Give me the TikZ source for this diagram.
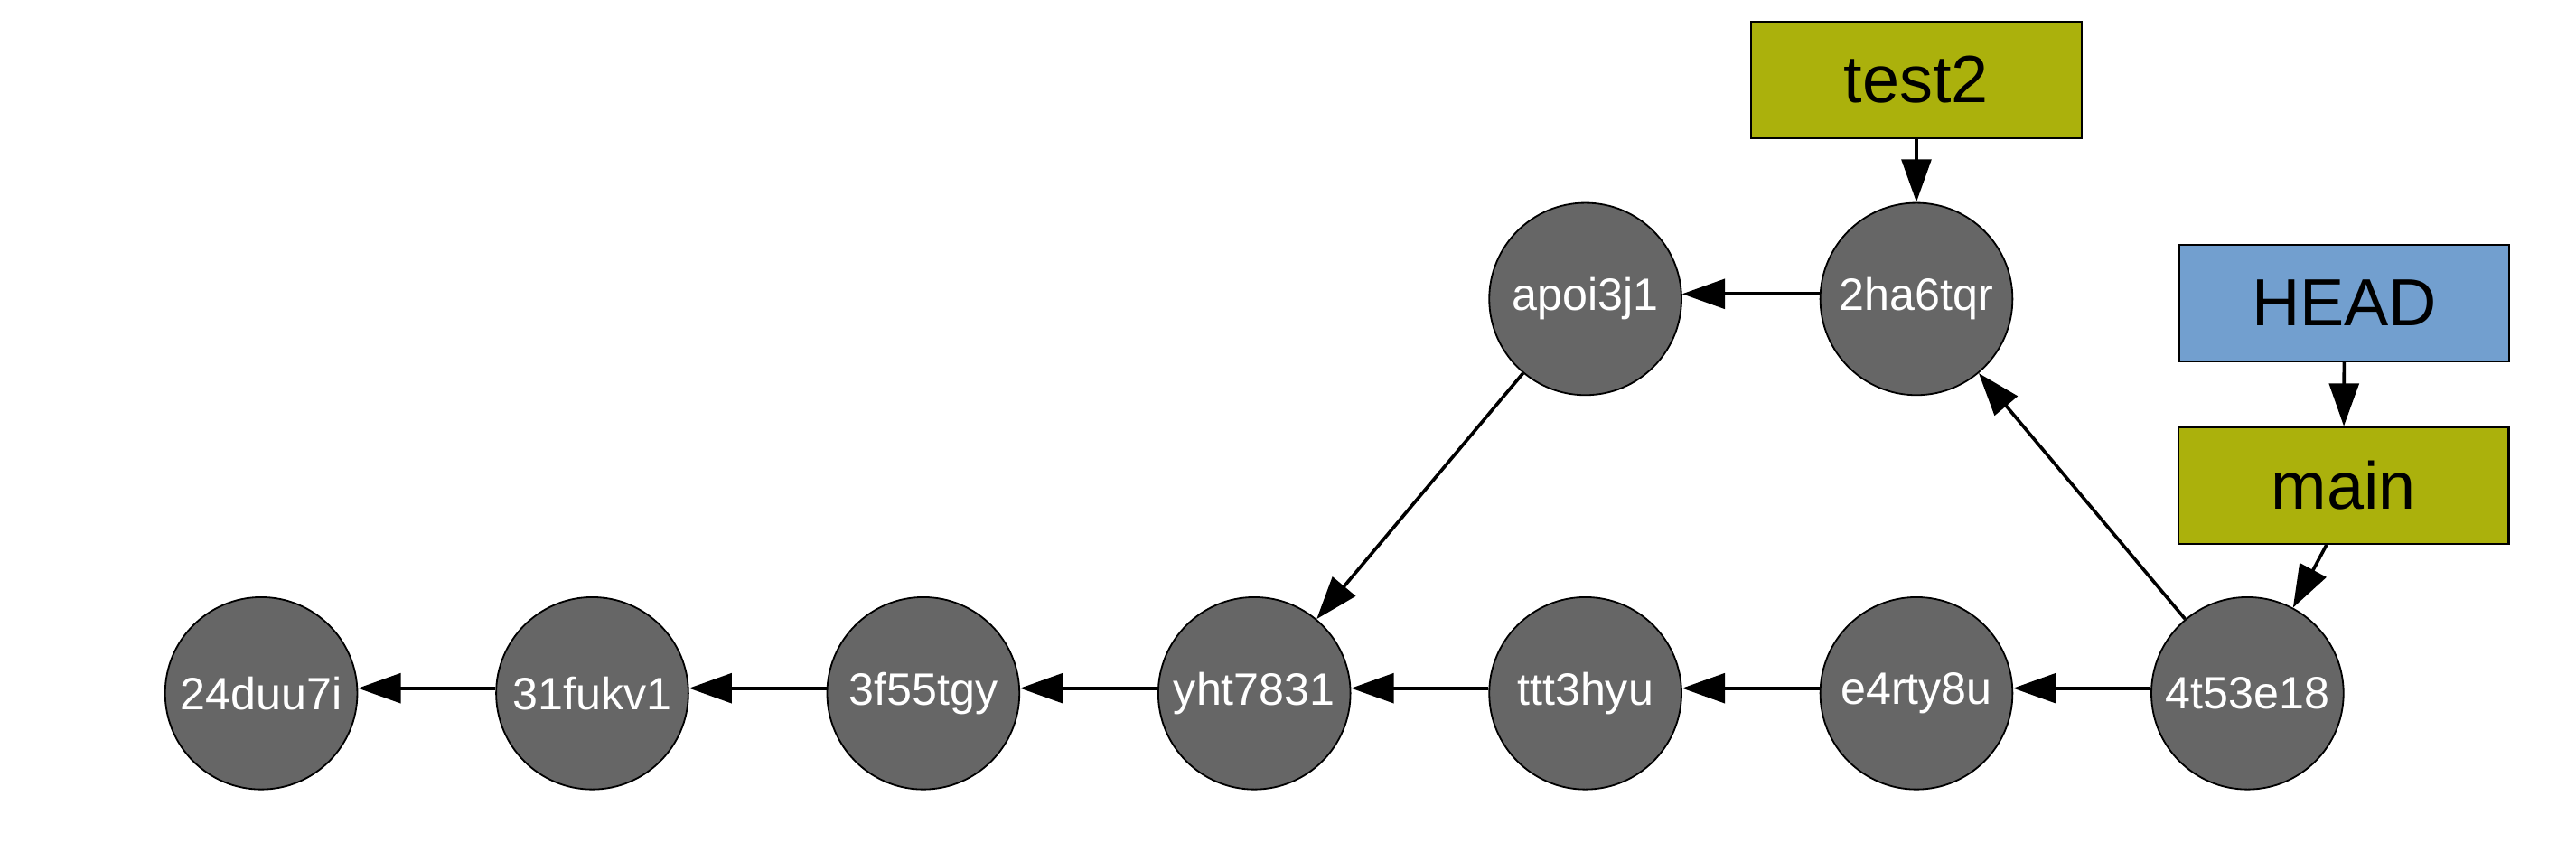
\documentclass[tikz,border=0pt]{standalone}
\usepackage{fontspec}
\setmainfont{Liberation Sans}
\usetikzlibrary{arrows.meta}
\definecolor{commitgray}{HTML}{666666}
\definecolor{branchgreen}{HTML}{ABB10C}
\definecolor{headblue}{HTML}{729FCF}

\begin{document}
\begin{tikzpicture}[x=0.5pt,y=-0.5pt,->,>={Triangle[length=13pt,width=9pt]},
                    node distance=100.75pt,line width=1pt]
  \tikzstyle{commit}=[circle,draw=black,line width=0.5pt,fill=commitgray,
                      text=white,minimum size=58.5pt,inner sep=0pt,
                      font=\fontsize{13.8}{16}\selectfont]
  \tikzstyle{ref}=[rectangle,draw=black,line width=0.6pt,text=black,
                   minimum width=100.5pt,minimum height=35.5pt,inner sep=0pt,
                   font=\fontsize{20.3}{24}\selectfont]
  \useasboundingbox (0,0) rectangle (1568,512.6);

  \node[commit]         (C7) at (1368,422)  {4t53e18};
  \node[commit]         (C6) [left of=C7]   {e4rty8u};
  \node[commit]         (C5) [left of=C6]   {ttt3hyu};
  \node[commit]         (C4) [left of=C5]   {yht7831};
  \node[commit]         (C3) [left of=C4]   {3f55tgy};
  \node[commit]         (C2) [left of=C3]   {31fukv1};
  \node[commit]         (C1) [left of=C2]   {24duu7i};
  \node[commit]         (B1) [above of=C5,node distance=120pt] {apoi3j1};
  \node[commit]         (B2) [right of=B1]  {2ha6tqr};

  \node[ref,fill=branchgreen] (test2) [above of=B2,node distance=66.75pt] {test2};
  \node[ref,fill=headblue]    (head) at (1427,184.5) {HEAD};
  \node[ref,fill=branchgreen] (main) at (1426.5,295.5) {main};

  \path (C7.177) edge (C6.3)
        (C6.177) edge (C5.3)
        (C5.177) edge (C4.3)
        (C4.177) edge (C3.3)
        (C3.177) edge (C2.3)
        (C2.177) edge (C1.3)
        (C7) edge (B2)
        (B2.177) edge (B1.3)
        (B1) edge (C4)
        (test2) edge (B2)
        (head) edge (main)
        (main.-106.5) edge (C7);
\end{tikzpicture}
\end{document}
